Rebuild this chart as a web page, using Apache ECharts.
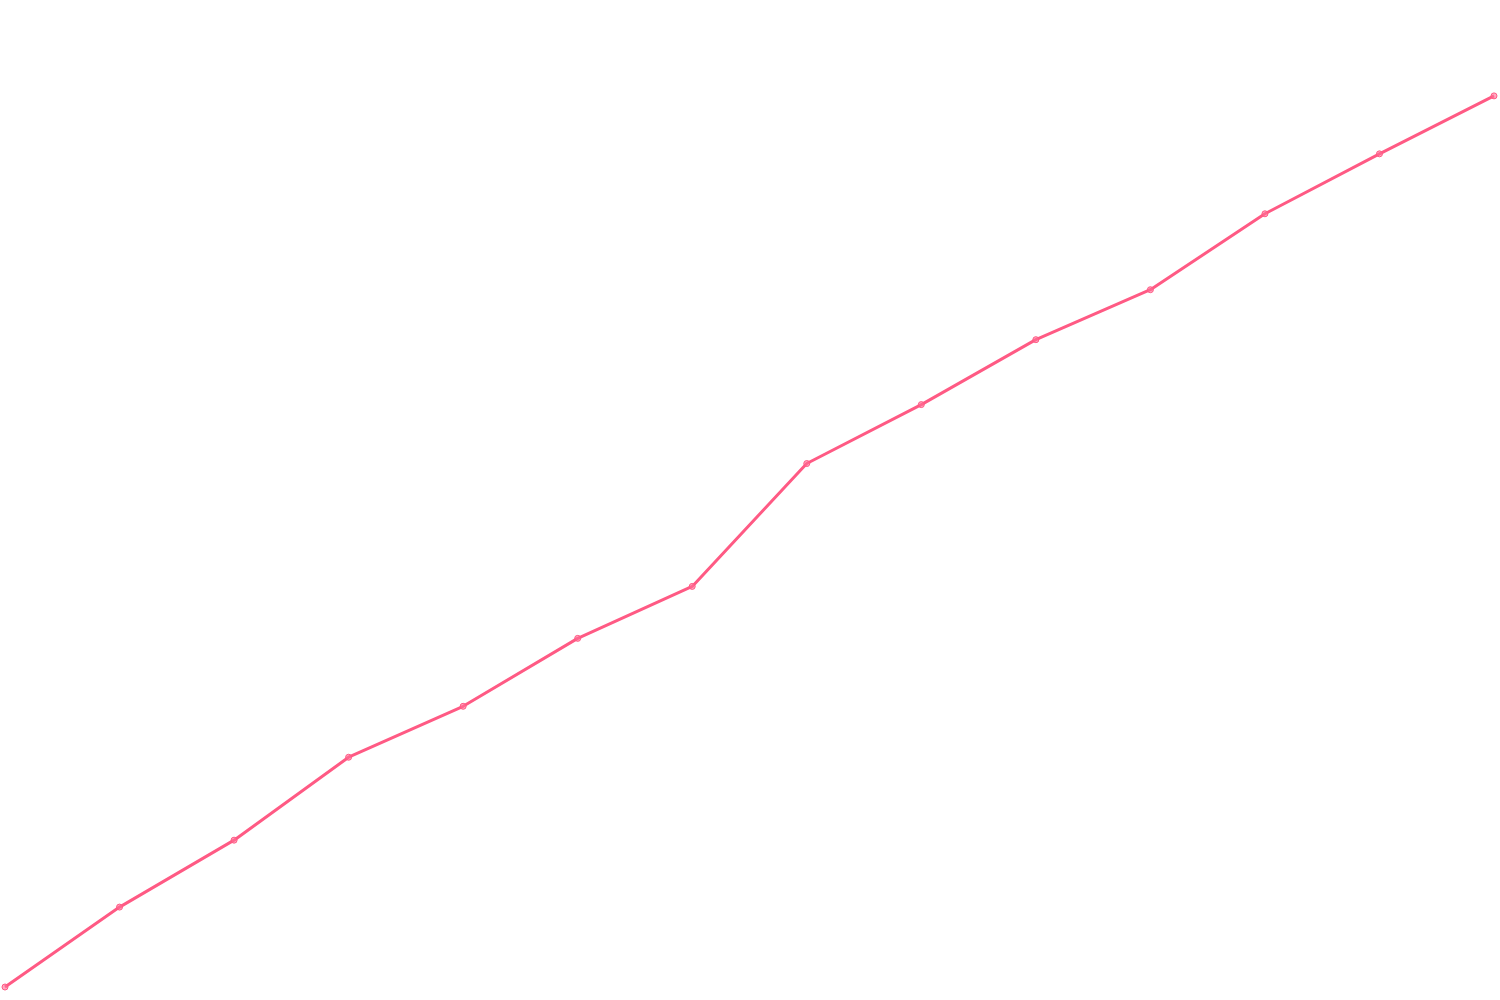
<!DOCTYPE html>
<html lang="en">
<head>
    <meta charset="UTF-8">
    <title>Line</title>
    <script src="https://cdn.jsdelivr.net/npm/echarts@6/dist/echarts.min.js"></script>
    <style>
        html, body { margin: 0; padding: 0; background: #fff; }
    </style>
</head>
<body>
<div id="chart" style="width: 1500px; height: 1000px;"></div>
<script>
    var categories = ['1', '2', '3', '4', '5', '6', '7', '8', '9', '10', '11', '12', '13', '14'];
    var values = [13, 93, 160, 243, 294, 362, 414, 537, 596, 661, 711, 787, 847, 905];

    var chart = echarts.init(document.getElementById('chart'));
    chart.setOption({
        animation: false,
        grid: {left: 5, right: 6, top: 1, bottom: -1},
        xAxis: {
            type: 'category',
            data: categories,
            boundaryGap: false,
            show: false
        },
        yAxis: {
            type: 'value',
            min: 0,
            max: 1000,
            show: false
        },
        series: [{
            type: 'line',
            data: values,
            symbol: 'circle',
            symbolSize: 6,
            showAllSymbol: true,
            lineStyle: {color: '#ff5a84', width: 3},
            itemStyle: {color: 'rgba(255, 110, 150, 0.6)', borderColor: '#ff5a84', borderWidth: 1}
        }]
    });
</script>
</body>
</html>
